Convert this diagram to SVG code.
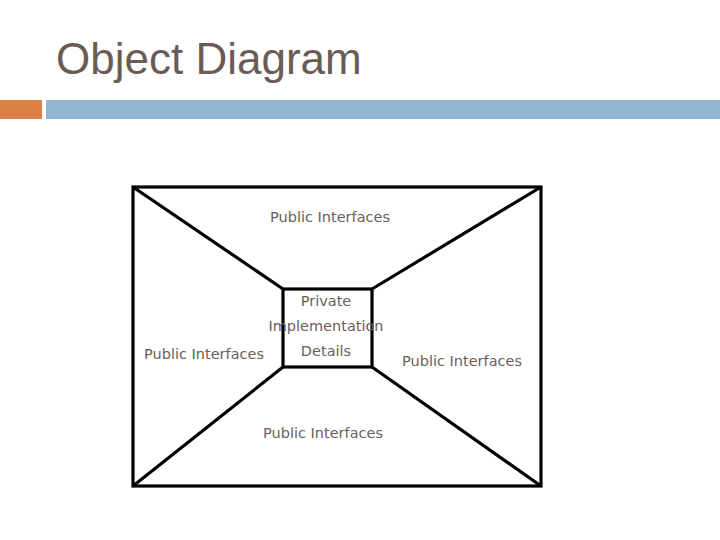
<svg xmlns="http://www.w3.org/2000/svg" width="720" height="540" viewBox="0 0 720 540">
<style>
.lbl{font-family:"DejaVu Sans",Verdana,sans-serif;font-size:14.5px;fill:#6b605a;text-anchor:middle}
.ln{stroke:#000;stroke-width:3.2;fill:none}
</style>
<rect width="720" height="540" fill="#fff"/>
<text x="56" y="74" font-family="Liberation Sans,Arial,sans-serif" font-size="44" fill="#6b5b55">Object Diagram</text>
<rect x="0" y="100" width="42" height="19" fill="#dd8047"/>
<rect x="46" y="100" width="674" height="19" fill="#94b6d2"/>
<g id="outer"><rect class="ln" x="133" y="187" width="408" height="299"/></g>
<g id="inner"><rect class="ln" x="283" y="289" width="89" height="78"/></g>
<g id="connectors">
<line class="ln" x1="133" y1="187" x2="283" y2="289"/>
<line class="ln" x1="541" y1="187" x2="372" y2="289"/>
<line class="ln" x1="133" y1="486" x2="283" y2="367"/>
<line class="ln" x1="541" y1="486" x2="372" y2="367"/>
</g>
<g id="labels">
<text class="lbl" x="330" y="222">Public Interfaces</text>
<text class="lbl" x="326" y="306">Private</text>
<text class="lbl" x="326" y="331">Implementation</text>
<text class="lbl" x="326" y="356">Details</text>
<text class="lbl" x="204" y="359">Public Interfaces</text>
<text class="lbl" x="462" y="366">Public Interfaces</text>
<text class="lbl" x="323" y="438">Public Interfaces</text>
</g>
</svg>
